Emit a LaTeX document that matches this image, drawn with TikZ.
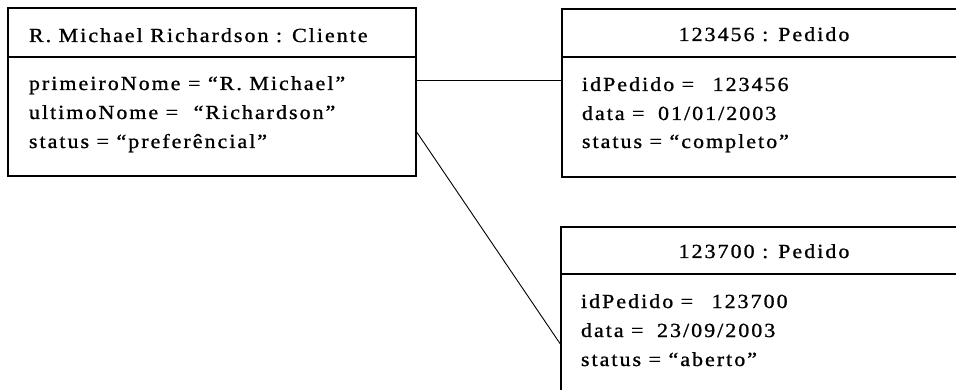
\documentclass[tikz,border=0pt]{standalone}
\usepackage{fontspec}
\usetikzlibrary{calc}
\newfontfamily\umlfont[LetterSpace=10,FakeStretch=1.1,FakeBold=1]{Liberation Serif}
\begin{document}
\begin{tikzpicture}[x=1pt,y=-1pt,
  objbox/.style={draw,rectangle,line width=1.5pt,inner sep=0pt,outer sep=0pt,minimum height=168pt},
  divline/.style={line width=1.5pt},
  assoc/.style={line width=0.9pt},
  txt/.style={inner sep=0pt,outer sep=0pt,font=\umlfont\fontsize{20}{24}\selectfont}
]
\useasboundingbox (0,0) rectangle (956,390);
\clip (0,0) rectangle (956,390);
\fill[white] (0,0) rectangle (956,390);

% boxes
\node[objbox,minimum width=408pt,anchor=north west] (cli) at (8,8) {};
\node[objbox,minimum width=404pt,anchor=north west] (p1) at (562,9) {};
\node[objbox,minimum width=404pt,anchor=north west] (p2) at (561,227) {};

% compartment dividers
\draw[divline] (cli.north west) ++(0,49) -- ++(408,0);
\draw[divline] (p1.north west) ++(0,48) -- ++(404,0);
\draw[divline,line width=2.5pt] (p2.north west) ++(0,47) -- ++(404,0);

% Cliente
\node[txt,anchor=base west] (clititle) at (29,42) {R. Michael Richardson : Cliente};
\node[txt,anchor=base west] (clia) at (29,90) {primeiroNome = “R. Michael”};
\node[txt,anchor=base west] (clib) at (29,119) {ultimoNome = \hspace*{8pt}“Richardson”};
\node[txt,anchor=base west] (clic) at (29,148) {status = “preferêncial”};

% Pedido 123456
\node[txt,anchor=base] (p1title) at (764,41) {123456 : Pedido};
\node[txt,anchor=base west] (p1a) at (582,91) {idPedido = \hspace*{11pt}123456};
\node[txt,anchor=base west] (p1b) at (582,120) {data = \hspace*{6pt}01/01/2003};
\node[txt,anchor=base west] (p1c) at (582,148) {status = “completo”};

% Pedido 123700
\node[txt,anchor=base] (p2title) at (764,258) {123700 : Pedido};
\node[txt,anchor=base west] (p2a) at (581,308) {idPedido = \hspace*{11pt}123700};
\node[txt,anchor=base west] (p2b) at (581,337) {data = \hspace*{6pt}23/09/2003};
\node[txt,anchor=base west] (p2c) at (581,366) {status = “aberto”};

% links
\draw[assoc] ($(cli.north east)+(0,72)$) -- ($(p1.north west)+(0,71)$);
\draw[assoc] ($(cli.north east)+(0,123)$) -- ($(p2.north west)+(0,118)$);
\end{tikzpicture}
\end{document}
